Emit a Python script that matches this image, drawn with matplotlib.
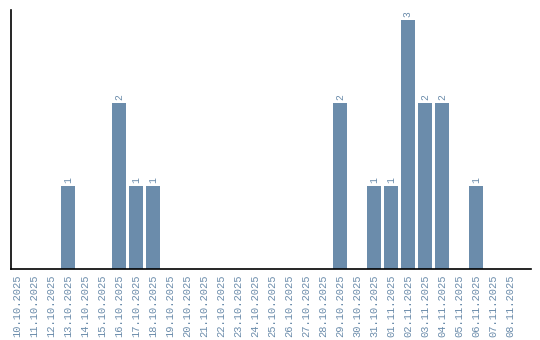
import matplotlib
matplotlib.use("Agg")
import matplotlib.pyplot as plt

dates = ["10.10.2025", "11.10.2025", "12.10.2025", "13.10.2025", "14.10.2025",
         "15.10.2025", "16.10.2025", "17.10.2025", "18.10.2025", "19.10.2025",
         "20.10.2025", "21.10.2025", "22.10.2025", "23.10.2025", "24.10.2025",
         "25.10.2025", "26.10.2025", "27.10.2025", "28.10.2025", "29.10.2025",
         "30.10.2025", "31.10.2025", "01.11.2025", "02.11.2025", "03.11.2025",
         "04.11.2025", "05.11.2025", "06.11.2025", "07.11.2025", "08.11.2025"]
counts = [0, 0, 0, 1, 0, 0, 2, 1, 1, 0,
          0, 0, 0, 0, 0, 0, 0, 0, 0, 2,
          0, 1, 1, 3, 2, 2, 0, 1, 0, 0]

bar_color = "#6b8cab"
text_color = "#6b8cab"

fig = plt.figure(figsize=(5.4, 3.4), dpi=100)
ax = fig.add_axes([11/540, 1-269/340, (531-11)/540, (269-10)/340])
x = list(range(len(dates)))
ax.bar(x, counts, width=0.82, color=bar_color)
for xi, c in zip(x, counts):
    if c > 0:
        ax.text(xi, c + 0.035, str(c), rotation=90, ha="center", va="bottom",
                fontsize=7, color=text_color, family="Liberation Mono")
ax.set_xlim(-0.35, 30.24)
ax.set_ylim(0, 3.12)
ax.set_xticks(x)
ax.set_xticklabels(dates, rotation=90, fontsize=7.5, color=text_color,
                   family="Liberation Mono")
ax.tick_params(axis="x", length=0, pad=4)
ax.set_yticks([])
for s in ["top", "right"]:
    ax.spines[s].set_visible(False)
for s in ["left", "bottom"]:
    ax.spines[s].set_linewidth(1.2)
fig.savefig("out.png", dpi=100)
